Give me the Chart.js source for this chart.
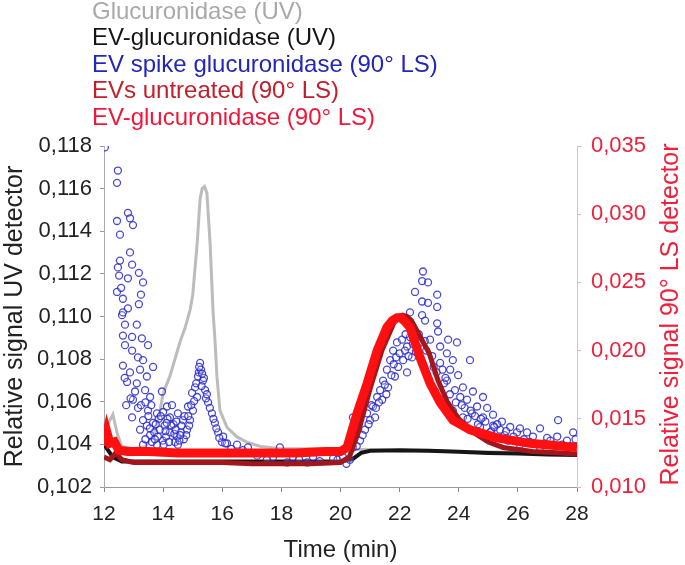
<!DOCTYPE html>
<html>
<head>
<meta charset="utf-8">
<script src="https://cdn.jsdelivr.net/npm/chart.js"></script>
<style>
  html, body { margin: 0; padding: 0; background: #fff; }
  #wrap { width: 685px; height: 565px; position: relative; }
</style>
</head>
<body>
<div id="wrap"><canvas id="sec-chart"></canvas></div>
<script>
/* ============================================
   SEC elution profiles — UV + 90° LS
   ============================================ */

// Glucuronidase (UV) — left axis
const greyTime = [12.0, 12.15, 12.3, 12.45, 12.6, 13.0, 13.4, 13.7, 13.9, 14.0, 14.23, 14.57, 14.75, 14.91, 15.0, 15.15, 15.25, 15.32, 15.4, 15.48, 15.59, 15.69, 15.75, 15.82, 15.92, 16.16, 16.5, 16.84, 17.3, 18.0, 20.0, 22.0, 28.0];
const greyUV = [0.1040, 0.1050, 0.1054, 0.1045, 0.1039, 0.1038, 0.1039, 0.1045, 0.1056, 0.1064, 0.1072, 0.1088, 0.1095, 0.1103, 0.1110, 0.1134, 0.1155, 0.1160, 0.1161, 0.1158, 0.1134, 0.1102, 0.1090, 0.1072, 0.1056, 0.1048, 0.10435, 0.1041, 0.1039, 0.1038, 0.1038, 0.1037, 0.1036];

// EV-glucuronidase (UV) — left axis
const blackTime = [12.0, 12.3, 12.6, 14.0, 16.0, 18.0, 20.0, 20.4, 20.7, 21.0, 22.0, 23.0, 24.0, 25.0, 26.0, 27.0, 28.0];
const blackUV = [0.1040, 0.1034, 0.1032, 0.1032, 0.1032, 0.1032, 0.1032, 0.1033, 0.1036, 0.1037, 0.10372, 0.1037, 0.10365, 0.1036, 0.10357, 0.10353, 0.1035];

// EV spike glucuronidase (90° LS) — right axis, scattered
const blueTime = [
  12.03, 12.44, 12.44, 12.44, 12.47, 12.47, 12.51, 12.54, 12.54, 12.58, 12.61, 12.64, 12.64, 12.64, 12.64, 12.71, 12.71, 12.78, 12.81, 12.81, 12.81,
  12.88, 12.88, 12.88, 12.95, 12.95, 12.95, 12.95, 12.98, 12.98, 13.11, 13.11, 13.15, 13.15, 13.18, 13.18, 13.22, 13.22, 13.25, 13.28, 13.32, 13.32,
  13.32, 13.32, 13.39, 13.45, 13.45, 13.49, 13.49, 13.56, 13.56, 13.6, 13.66, 13.66, 13.7, 13.79, 13.79, 13.85, 13.89, 13.96, 13.99, 14.0, 14.05,
  14.1, 14.13, 14.23, 14.23, 14.3, 14.35, 14.4, 14.47, 14.5, 14.5, 14.6, 14.67, 14.7, 14.81, 14.84, 14.91, 14.98, 15.01, 15.08, 15.15, 15.18, 15.21,
  15.25, 15.35, 15.42, 15.52, 15.65, 15.75, 15.86, 15.99, 16.03, 16.16, 16.3, 16.5, 16.7, 16.87, 17.0, 17.18, 17.51, 17.72, 17.95, 18.19, 18.39,
  18.6, 18.87, 19.07, 19.3, 19.75, 19.9, 20.08, 20.2, 20.32, 20.42, 20.42, 20.66, 20.83, 20.9, 21.0, 21.1, 21.17, 21.24, 21.34, 21.41, 21.44, 21.57,
  21.61, 21.68, 21.78, 21.84, 21.91, 21.95, 22.08, 22.12, 22.25, 22.25, 22.35, 22.35, 22.42, 22.52, 22.76, 22.76, 22.76, 22.79, 22.86, 22.96, 22.96,
  23.03, 23.2, 23.27, 23.27, 23.27, 23.3, 23.37, 23.37, 23.47, 23.6, 23.6, 23.64, 23.71, 23.8, 23.8, 23.87, 23.94, 23.98, 24.14, 24.14, 24.28, 24.38,
  24.45, 24.48, 24.62, 24.72, 24.82, 24.82, 24.96, 25.06, 25.16, 25.16, 25.4, 25.46, 25.67, 25.74, 25.97, 26.07, 26.07, 26.31, 26.51, 26.75, 26.75,
  26.99, 27.19, 27.33, 27.36, 27.66, 27.87, 28.0,
  // denser parts of the clouds
  13.4, 13.5, 13.62, 13.75, 13.82, 13.92, 14.02, 14.08, 14.15, 14.2, 14.28, 14.38, 14.45, 14.55, 14.62, 14.72, 14.78, 14.88, 14.95, 15.05,
  15.12, 15.28, 15.3, 15.38, 15.45, 15.58, 15.7, 15.8, 15.9, 16.1, 13.25, 13.05, 12.9, 12.7, 12.75, 13.4,
  20.55, 20.75, 20.95, 21.05, 21.2, 21.3, 21.5, 21.55, 21.72, 21.88, 22.0, 22.18, 22.3, 22.45, 22.6, 22.65, 22.85, 22.9, 23.1, 23.15, 23.45,
  23.5, 23.7, 23.9, 24.05, 24.2, 24.3, 24.55, 24.65, 24.9, 25.1, 25.3, 25.55, 25.85, 26.2, 26.4, 26.9, 27.1, 27.5, 27.8, 27.95,
  13.55, 13.72, 14.12, 14.42, 14.58, 14.85, 15.22, 15.32, 15.48, 21.8, 22.2, 22.55, 22.7, 23.25, 23.55, 24.1, 24.4, 24.75, 25.2, 25.6
];
const blueLS = [
  0.0349, 0.0323, 0.0295, 0.0243, 0.0332, 0.0261, 0.0255, 0.0285, 0.0266, 0.0246, 0.0226, 0.0238, 0.0228, 0.0211, 0.0189, 0.0219, 0.0204, 0.0177, 0.0301, 0.0253, 0.0231,
  0.0297, 0.0272, 0.0184, 0.0263, 0.0210, 0.0200, 0.0151, 0.0292, 0.0164, 0.0219, 0.0176, 0.0195, 0.0158, 0.0257, 0.0234, 0.0186, 0.0142, 0.0241, 0.0209, 0.0250, 0.0193,
  0.0149, 0.0131, 0.0171, 0.0181, 0.0145, 0.0204, 0.0156, 0.0166, 0.0138, 0.0160, 0.0188, 0.0147, 0.0140, 0.0154, 0.0131, 0.0150, 0.0142, 0.0170, 0.0134, 0.0155, 0.0145,
  0.0137, 0.0159, 0.0151, 0.0140, 0.0160, 0.0146, 0.0133, 0.0137, 0.0154, 0.0131, 0.0140, 0.0149, 0.0135, 0.0142, 0.0159, 0.0149, 0.0169, 0.0156, 0.0173, 0.0166, 0.0181, 0.0184,
  0.0191, 0.0178, 0.0171, 0.0162, 0.0154, 0.0147, 0.0140, 0.0133, 0.0137, 0.0132, 0.0128, 0.0131, 0.0127, 0.0129, 0.0125, 0.0123, 0.0120, 0.0122, 0.0129, 0.0118, 0.0122,
  0.0120, 0.0118, 0.0122, 0.0119, 0.0121, 0.0120, 0.0122, 0.0117, 0.0120, 0.0129, 0.0151, 0.0134, 0.0142, 0.0154, 0.0149, 0.0159, 0.0151, 0.0166, 0.0171, 0.0164, 0.0178, 0.0186,
  0.0173, 0.0193, 0.0200, 0.0181, 0.0206, 0.0188, 0.0208, 0.0193, 0.0203, 0.0184, 0.0210, 0.0228, 0.0195, 0.0243, 0.0251, 0.0236, 0.0226, 0.0258, 0.0222, 0.0250, 0.0235,
  0.0208, 0.0170, 0.0241, 0.0232, 0.0220, 0.0214, 0.0203, 0.0191, 0.0164, 0.0198, 0.0178, 0.0208, 0.0186, 0.0193, 0.0156, 0.0171, 0.0206, 0.0182, 0.0173, 0.0151, 0.0164, 0.0193,
  0.0154, 0.0170, 0.0159, 0.0144, 0.0166, 0.0151, 0.0158, 0.0140, 0.0153, 0.0145, 0.0142, 0.0148, 0.0134, 0.0144, 0.0140, 0.0143, 0.0131, 0.0140, 0.0137, 0.0143, 0.0129,
  0.0136, 0.0131, 0.0137, 0.0149, 0.0134, 0.0140, 0.0129,
  0.0135, 0.0152, 0.0133, 0.0146, 0.0137, 0.0152, 0.0131, 0.0141, 0.0150, 0.0133, 0.0145, 0.0139, 0.0148, 0.0134, 0.0145, 0.0152, 0.0138, 0.0145, 0.0160, 0.0163,
  0.0176, 0.0186, 0.0174, 0.0180, 0.0165, 0.0158, 0.0150, 0.0143, 0.0136, 0.0132, 0.0160, 0.0170, 0.0165, 0.0180, 0.0160, 0.0162,
  0.0130, 0.0138, 0.0146, 0.0160, 0.0158, 0.0162, 0.0175, 0.0168, 0.0182, 0.0195, 0.0198, 0.0200, 0.0196, 0.0205, 0.0203, 0.0212, 0.0207, 0.0200, 0.0196, 0.0188, 0.0186,
  0.0176, 0.0168, 0.0162, 0.0166, 0.0158, 0.0150, 0.0152, 0.0146, 0.0148, 0.0141, 0.0146, 0.0138, 0.0137, 0.0135, 0.0133, 0.0132, 0.0134, 0.0131, 0.0130, 0.0135,
  0.0143, 0.0135, 0.0147, 0.0142, 0.0138, 0.0152, 0.0188, 0.0183, 0.0168, 0.0190, 0.0212, 0.0199, 0.0206, 0.0184, 0.0180, 0.0160, 0.0156, 0.0150, 0.0144, 0.0141
];

// EVs untreated (90° LS) — right axis
const darkRedTime = [12.0, 12.2, 12.4, 12.6, 13.0, 14.0, 15.0, 16.0, 17.0, 18.0, 19.0, 20.0, 20.3, 20.6, 21.0, 21.4, 21.8, 21.95, 22.1, 22.25, 22.4, 22.7, 23.0, 23.3, 23.6, 24.0, 24.5, 25.0, 25.5, 26.5, 27.5, 28.0];
const darkRedLS = [0.0122, 0.0120, 0.0125, 0.0120, 0.0118, 0.0118, 0.0118, 0.0118, 0.0117, 0.0117, 0.0117, 0.0118, 0.0122, 0.0140, 0.0172, 0.0200, 0.0220, 0.0225, 0.0226, 0.0225, 0.0222, 0.0210, 0.0198, 0.0178, 0.0163, 0.0150, 0.0140, 0.0133, 0.0129, 0.0126, 0.0125, 0.0124];

// EV-glucuronidase (90° LS) — right axis
const redTime = [12.0, 12.1, 12.2, 12.35, 12.5, 12.8, 13.5, 14.5, 15.5, 16.5, 17.5, 18.5, 19.5, 20.0, 20.22, 20.56, 20.9, 21.24, 21.57, 21.75, 21.91, 22.05, 22.15, 22.35, 22.69, 23.03, 23.37, 23.8, 24.38, 25.3, 26.4, 28.0];
const redLS = [0.0130, 0.0140, 0.0132, 0.0133, 0.0127, 0.0126, 0.0126, 0.0125, 0.0125, 0.0125, 0.0125, 0.0125, 0.0126, 0.0126, 0.0129, 0.0154, 0.0176, 0.0200, 0.0217, 0.0222, 0.0224, 0.0224, 0.0222, 0.0217, 0.0195, 0.0176, 0.0162, 0.0149, 0.0142, 0.0136, 0.0132, 0.0129];

const FONT = '"Liberation Sans", Arial, sans-serif';
const toPoints = (xs, ys) => xs.map((x, i) => ({ x: x, y: ys[i] }));
const comma = (v, d) => v.toFixed(d).replace('.', ',');

// Stacked coloured-text legend above the plot
const textLegend = {
  id: 'textLegend',
  afterDraw(chart) {
    const ctx = chart.ctx;
    ctx.save();
    ctx.font = '24px ' + FONT;
    ctx.textAlign = 'left';
    ctx.textBaseline = 'middle';
    chart.data.datasets.forEach((ds, i) => {
      ctx.fillStyle = ds.textColor;
      ctx.fillText(ds.label, 92, 12 + i * 26.5);
    });
    ctx.restore();
  }
};

// Right axis title reads bottom-to-top, like the left one
const rightTitle = {
  id: 'rightTitle',
  afterDraw(chart) {
    const ctx = chart.ctx;
    const area = chart.chartArea;
    ctx.save();
    ctx.translate(671, (area.top + area.bottom) / 2 - 2);
    ctx.rotate(-Math.PI / 2);
    ctx.font = '25px ' + FONT;
    ctx.fillStyle = '#f0203c';
    ctx.textAlign = 'center';
    ctx.textBaseline = 'middle';
    ctx.fillText('Relative signal 90° LS detector', 0, 0);
    ctx.restore();
  }
};

const ctx = document.getElementById('sec-chart').getContext('2d');

new Chart(ctx, {
  type: 'scatter',
  data: {
    datasets: [
      {
        label: 'Glucuronidase (UV)',
        textColor: '#a9a9a9',
        data: toPoints(greyTime, greyUV),
        yAxisID: 'y',
        showLine: true,
        borderColor: '#bcbcbc',
        borderWidth: 3,
        pointRadius: 0,
        order: 5
      },
      {
        label: 'EV-glucuronidase (UV)',
        textColor: '#151515',
        data: toPoints(blackTime, blackUV),
        yAxisID: 'y',
        showLine: true,
        borderColor: '#161616',
        borderWidth: 4,
        pointRadius: 0,
        order: 4
      },
      {
        label: 'EV spike glucuronidase (90° LS)',
        textColor: '#2326b8',
        data: toPoints(blueTime, blueLS),
        yAxisID: 'y2',
        showLine: false,
        pointRadius: 3.5,
        pointBorderWidth: 1.3,
        pointBorderColor: 'rgba(40, 40, 205, 0.85)',
        pointBackgroundColor: 'rgba(255, 255, 255, 0.2)',
        order: 3
      },
      {
        label: 'EVs untreated (90° LS)',
        textColor: '#c0202c',
        data: toPoints(darkRedTime, darkRedLS),
        yAxisID: 'y2',
        showLine: true,
        borderColor: '#a3161c',
        borderWidth: 5,
        pointRadius: 0,
        order: 2
      },
      {
        label: 'EV-glucuronidase (90° LS)',
        textColor: '#f2173a',
        data: toPoints(redTime, redLS),
        yAxisID: 'y2',
        showLine: true,
        borderColor: '#ff1010',
        borderWidth: 9,
        pointRadius: 0,
        order: 1
      }
    ]
  },
  options: {
    responsive: true,
    maintainAspectRatio: false,
    animation: false,
    layout: { padding: { top: 146 } },
    plugins: {
      legend: { display: false },
      tooltip: { enabled: false }
    },
    scales: {
      x: {
        type: 'linear',
        min: 12,
        max: 28,
        ticks: { stepSize: 2, color: '#222', font: { family: FONT, size: 21 }, padding: 10 },
        grid: { drawOnChartArea: false, color: '#888', tickLength: 5 },
        border: { color: '#999' },
        title: { display: true, text: 'Time (min)', color: '#222', font: { family: FONT, size: 24 }, padding: { top: 0, bottom: 0 } },
        afterFit(scale) { scale.height = 78; }
      },
      y: {
        position: 'left',
        min: 0.102,
        max: 0.118,
        ticks: { stepSize: 0.002, color: '#222', font: { family: FONT, size: 22 }, padding: 8, callback: v => comma(v, 3) },
        grid: { drawOnChartArea: false, color: '#999', tickLength: 4 },
        border: { color: '#aaa' },
        title: { display: true, text: 'Relative signal UV detector', color: '#222', font: { family: FONT, size: 25 }, padding: { top: 0, bottom: 0 } },
        afterFit(scale) { scale.width = 104; }
      },
      y2: {
        position: 'right',
        min: 0.010,
        max: 0.035,
        ticks: { stepSize: 0.005, color: '#f0203c', font: { family: FONT, size: 22 }, padding: 10, callback: v => comma(v, 3) },
        grid: { drawOnChartArea: false, color: '#f3a9b0', tickLength: 4 },
        border: { color: '#f5b8bd' },
        afterFit(scale) { scale.width = 108; }
      }
    }
  },
  plugins: [textLegend, rightTitle]
});
</script>
</body>
</html>
